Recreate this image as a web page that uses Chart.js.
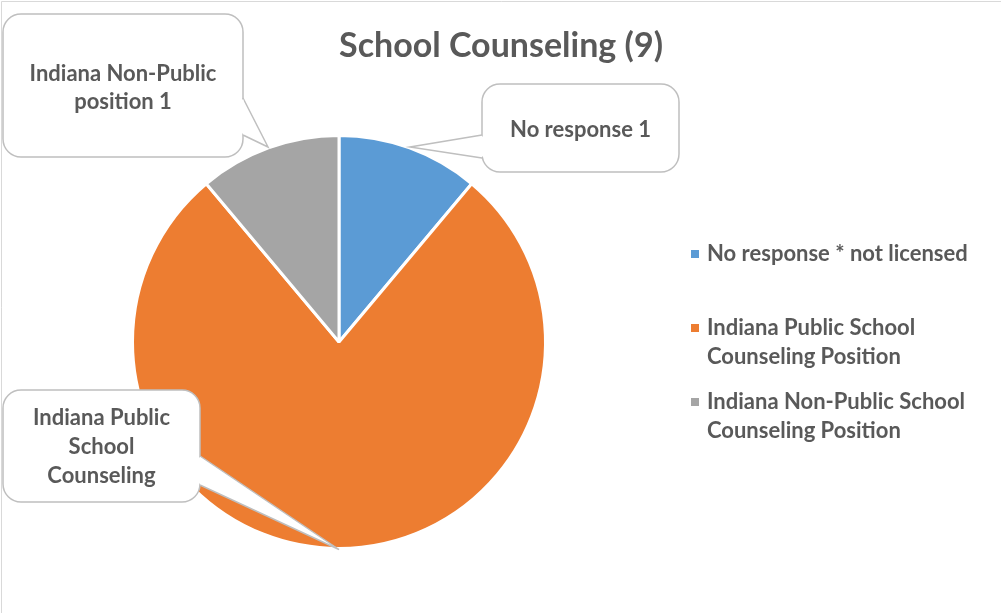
<!DOCTYPE html>
<html>
<head>
<meta charset="utf-8">
<script src="https://cdn.jsdelivr.net/npm/chart.js@4.4.1/dist/chart.umd.min.js"></script>
<style>
  html, body { margin: 0; padding: 0; background: #fff; }
  #wrap { width: 1001px; height: 613px; position: relative; }
</style>
</head>
<body>
<div id="wrap"><canvas id="pie"></canvas></div>
<script>
const chartTitle = 'School Counseling (9)';
const categories = [
  ['No response * not licensed'],
  ['Indiana Public School', 'Counseling Position'],
  ['Indiana Non-Public School', 'Counseling Position']
];
const counts = [1, 7, 1];
const sliceColors = ['#5B9BD5', '#ED7D31', '#A5A5A5'];
const calloutText = [
  ['No response 1'],
  ['Indiana Public', 'School', 'Counseling'],
  ['Indiana Non-Public', 'position 1']
];

const FONT = 'Lato, "Open Sans", sans-serif';
const TEXT = '#595959';

function roundRect(ctx, x, y, w, h, r) {
  ctx.beginPath();
  ctx.moveTo(x + r, y);
  ctx.arcTo(x + w, y, x + w, y + h, r);
  ctx.arcTo(x + w, y + h, x, y + h, r);
  ctx.arcTo(x, y + h, x, y, r);
  ctx.arcTo(x, y, x + w, y, r);
  ctx.closePath();
}

// callout boxes: box rect, pointer base points on the box edge, text line centres
const calloutLayout = [
  { box: [482, 84, 197, 88], base: [[482, 135], [482, 158]], lines: [130] },
  { box: [3, 390, 197, 112], base: [[200, 456], [200, 485]], lines: [418, 447, 476] },
  { box: [3, 14, 240, 143], base: [[243, 98], [243, 135]], lines: [74, 102] }
];

const decorPlugin = {
  id: 'decor',
  beforeDraw(chart) {
    const ctx = chart.ctx;
    ctx.save();
    ctx.fillStyle = '#fff';
    ctx.fillRect(0, 0, chart.width, chart.height);
    ctx.strokeStyle = '#D9D9D9';
    ctx.lineWidth = 1;
    ctx.beginPath();
    ctx.moveTo(1.5, chart.height);
    ctx.lineTo(1.5, 1.5);
    ctx.lineTo(chart.width, 1.5);
    ctx.stroke();
    ctx.restore();
  },
  afterDraw(chart) {
    const ctx = chart.ctx;
    const arcs = chart.getDatasetMeta(0).data;
    ctx.save();

    // title
    ctx.fillStyle = TEXT;
    ctx.font = 'bold 34px ' + FONT;
    ctx.textAlign = 'center';
    ctx.textBaseline = 'middle';
    ctx.fillText(chartTitle, 501, 46);

    // callouts
    arcs.forEach((arc, i) => {
      const p = arc.getProps(['x', 'y', 'startAngle', 'endAngle', 'outerRadius'], true);
      const mid = (p.startAngle + p.endAngle) / 2;
      const tip = [p.x + Math.cos(mid) * (p.outerRadius + 1), p.y + Math.sin(mid) * (p.outerRadius + 1)];
      const L = calloutLayout[i];
      const [bx, by, bw, bh] = L.box;
      ctx.fillStyle = '#fff';
      ctx.strokeStyle = '#BFBFBF';
      ctx.lineWidth = 1.5;
      roundRect(ctx, bx, by, bw, bh, 18);
      ctx.fill();
      ctx.stroke();
      // pointer
      ctx.beginPath();
      ctx.moveTo(L.base[0][0], L.base[0][1]);
      ctx.lineTo(tip[0], tip[1]);
      ctx.lineTo(L.base[1][0], L.base[1][1]);
      ctx.closePath();
      ctx.fill();
      ctx.beginPath();
      ctx.moveTo(L.base[0][0], L.base[0][1]);
      ctx.lineTo(tip[0], tip[1]);
      ctx.lineTo(L.base[1][0], L.base[1][1]);
      ctx.stroke();
      // hide the box edge between the pointer base points
      ctx.strokeStyle = '#fff';
      ctx.lineWidth = 3;
      ctx.beginPath();
      const dx = L.base[0][0] < tip[0] ? -1 : 1;
      ctx.moveTo(L.base[0][0] + dx, L.base[0][1] + 1.5);
      ctx.lineTo(L.base[1][0] + dx, L.base[1][1] - 1.5);
      ctx.stroke();

      ctx.fillStyle = TEXT;
      ctx.font = 'bold 22px ' + FONT;
      ctx.textAlign = 'center';
      ctx.textBaseline = 'middle';
      calloutText[i].forEach((t, k) => ctx.fillText(t, bx + bw / 2, L.lines[k]));
    });

    // legend
    const legendY = [[254], [328, 357], [402, 431]];
    ctx.font = 'bold 22px ' + FONT;
    ctx.textAlign = 'left';
    ctx.textBaseline = 'middle';
    categories.forEach((lines, i) => {
      ctx.fillStyle = sliceColors[i];
      ctx.fillRect(691, legendY[i][0] - 4, 8, 8);
      ctx.fillStyle = TEXT;
      lines.forEach((t, k) => ctx.fillText(t, 707, legendY[i][k]));
    });
    ctx.restore();
  }
};

new Chart(document.getElementById('pie'), {
  type: 'pie',
  data: {
    labels: categories.map(c => c.join(' ')),
    datasets: [{
      data: counts,
      backgroundColor: sliceColors,
      borderColor: '#fff',
      borderWidth: 3
    }]
  },
  options: {
    responsive: true,
    maintainAspectRatio: false,
    animation: false,
    layout: { padding: { left: 131, right: 454, top: 134, bottom: 63 } },
    plugins: {
      legend: { display: false },
      title: { display: false },
      tooltip: { enabled: false }
    }
  },
  plugins: [decorPlugin]
});
</script>
</body>
</html>
